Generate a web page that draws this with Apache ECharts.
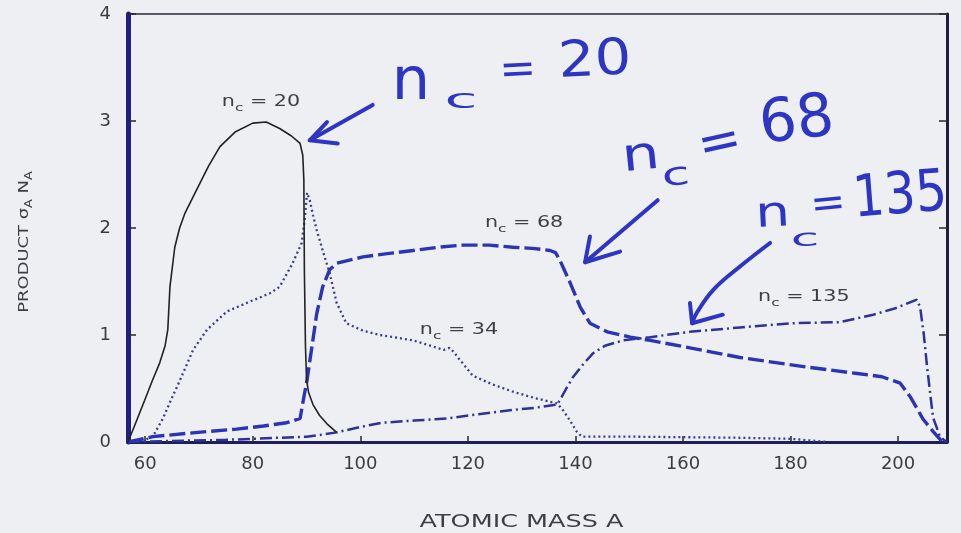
<!DOCTYPE html>
<html>
<head>
<meta charset="utf-8">
<script src="https://cdn.jsdelivr.net/npm/echarts@6/dist/echarts.min.js"></script>
<style>
  html, body { margin: 0; padding: 0; background: #eeeff3; }
  #chart { width: 961px; height: 533px; }
</style>
</head>
<body>
<div id="chart"></div>
<script>
// Mass axis ticks and product axis range
const massTicks = [60, 80, 100, 120, 140, 160, 180, 200];
const massMin = 56.8, massMax = 209.1;
const prodMin = 0, prodMax = 4, prodStep = 1;

// n_c = 20 (solid)
const nc20Mass = [56.8, 58.0, 59.9, 61.3, 62.7, 63.7, 64.2, 64.6, 65.5, 66.4, 67.4, 69.6, 71.8, 73.9, 76.8, 80.0, 82.5, 85.0, 87.2, 88.8, 89.3, 89.5, 89.6, 89.8, 90.0, 90.4, 91.2, 92.4, 93.8, 95.6];
const nc20Prod = [0, 0.15, 0.39, 0.57, 0.74, 0.90, 1.05, 1.45, 1.82, 2.00, 2.14, 2.36, 2.58, 2.76, 2.90, 2.98, 2.99, 2.93, 2.86, 2.79, 2.68, 2.45, 1.60, 0.90, 0.58, 0.46, 0.35, 0.25, 0.17, 0.09];

// n_c = 34 (dotted)
const nc34Mass = [57.5, 59.5, 61.4, 63.3, 64.5, 66.4, 68.9, 71.5, 75.2, 78.9, 83.2, 85.0, 87.4, 89.1, 89.7, 90.1, 90.6, 91.2, 91.9, 93.0, 94.3, 95.6, 97.4, 100.5, 103.7, 109.8, 113.0, 115.5, 116.6, 117.4, 118.3, 119.3, 120.9, 124.5, 128.4, 132.5, 136.6, 137.8, 139.0, 140.2, 141.2, 150, 160, 170, 180, 187];
const nc34Prod = [0, 0.01, 0.05, 0.22, 0.36, 0.57, 0.86, 1.05, 1.22, 1.30, 1.39, 1.45, 1.67, 1.86, 2.10, 2.33, 2.26, 2.12, 1.98, 1.79, 1.58, 1.30, 1.11, 1.04, 1.00, 0.95, 0.90, 0.86, 0.88, 0.84, 0.78, 0.72, 0.62, 0.54, 0.47, 0.41, 0.36, 0.29, 0.20, 0.10, 0.05, 0.05, 0.045, 0.04, 0.03, 0];

// n_c = 68 (dashed)
const nc68Mass = [56.8, 61.4, 67.7, 72.0, 77.0, 82.0, 86.3, 88.8, 89.4, 90.1, 91.0, 91.9, 93.0, 94.3, 95.6, 98.0, 100.5, 105.0, 109.8, 114.5, 119.1, 124.0, 128.4, 132.0, 135.3, 136.3, 137.1, 138.0, 139.0, 140.0, 140.9, 142.7, 145.9, 150.2, 153.9, 161.3, 170.6, 183.1, 192.4, 197.0, 200.4, 202.3, 204.7, 206.5, 207.9, 209.0];
const nc68Prod = [0, 0.05, 0.08, 0.10, 0.12, 0.15, 0.18, 0.22, 0.39, 0.58, 0.89, 1.20, 1.45, 1.61, 1.67, 1.70, 1.73, 1.76, 1.79, 1.82, 1.84, 1.84, 1.82, 1.81, 1.79, 1.77, 1.70, 1.60, 1.49, 1.37, 1.26, 1.11, 1.03, 0.98, 0.95, 0.88, 0.79, 0.70, 0.64, 0.61, 0.55, 0.42, 0.21, 0.10, 0.02, 0];

// n_c = 135 (dash-dot)
const nc135Mass = [56.8, 65, 75, 85, 90, 93, 95.6, 100, 104.0, 110, 116.1, 122, 128.4, 132.5, 136.6, 137.1, 138.3, 139.6, 141.5, 143.3, 145.5, 148.9, 153.9, 161.3, 170.6, 180.0, 189.2, 195.4, 199.5, 203.5, 204.1, 204.8, 205.4, 206.5, 207.8, 209.0];
const nc135Prod = [0, 0.01, 0.02, 0.04, 0.05, 0.07, 0.09, 0.14, 0.18, 0.20, 0.22, 0.26, 0.30, 0.32, 0.35, 0.39, 0.50, 0.61, 0.73, 0.83, 0.90, 0.95, 0.98, 1.03, 1.07, 1.11, 1.12, 1.19, 1.25, 1.33, 1.26, 1.00, 0.70, 0.23, 0.05, 0];

// Printed curve labels: [mass, product] of the left edge of "n", and the value text
const curveLabelText = ['20', '68', '34', '135'];
const curveLabelAt = [[74.25, 3.18], [123.18, 2.05], [111.07, 1.05], [173.97, 1.35]];

// Hand-inked notes: glyph, [mass, product] centre, size, scale x/y, rotation
const inkGlyphs = ['n', 'c', '=', '20', 'n', 'c', '=', '68', 'n', 'c', '=', '135'];
const inkAt = [[109.4, 3.35], [118.7, 3.19], [129.3, 3.46], [143.6, 3.55],
               [152.2, 2.66], [158.7, 2.48], [166.9, 2.78], [181.2, 2.98],
               [176.7, 2.12], [182.7, 1.89], [187.0, 2.21], [200.4, 2.28]];
const inkSize = [54, 30, 44, 50, 46, 32, 52, 60, 42, 26, 42, 58];
const inkScale = [[1.12, 1.1], [2.0, 0.9], [1.0, 1.0], [1.15, 1.0],
                  [1.3, 1.0], [1.6, 1.0], [1.0, 1.0], [0.98, 1.0],
                  [1.3, 1.0], [2.0, 0.9], [1.0, 1.0], [0.85, 1.0]];
const inkRot = [0, 0, 0.05, 0.05, 0.1, 0.1, 0.22, 0.12, 0.05, 0.05, 0.1, 0.08];

// Hand-inked arrows: shaft and head as [mass, product] paths
const arrowShafts = [
  [[102.3, 3.15], [90.6, 2.82]],
  [[155.3, 2.26], [141.8, 1.68]],
  [[176.2, 1.86], [170.6, 1.64], [165.6, 1.42], [162.6, 1.21], [161.7, 1.11]]
];
const arrowHeads = [
  [[93.8, 2.99], [90.6, 2.82], [95.8, 2.79]],
  [[142.7, 1.92], [141.8, 1.68], [148.3, 1.78]],
  [[161.3, 1.30], [161.7, 1.11], [167.4, 1.19]]
];

const zip = (xs, ys) => xs.map((x, i) => [x, ys[i]]);

const FONT = 'DejaVu Sans';
const INK = '#2c35c4';
const PRINT = '#3e3e44';

const chart = echarts.init(document.getElementById('chart'), null, { renderer: 'canvas' });

const baseAxisX = { type: 'value', min: massMin, max: massMax, splitLine: { show: false } };
const baseAxisY = { type: 'value', min: prodMin, max: prodMax, interval: prodStep, splitLine: { show: false } };

chart.setOption({
  animation: false,
  backgroundColor: '#eeeff3',
  grid: { left: 128, right: 14, top: 14, bottom: 91, containLabel: false },
  xAxis: [
    Object.assign({}, baseAxisX, {
      position: 'bottom',
      axisLine: { show: true, onZero: false, lineStyle: { color: '#1e1e5e', width: 3 } },
      axisTick: { show: true, inside: true, length: 6, customValues: massTicks, lineStyle: { color: '#2a2a2a', width: 1.5 } },
      axisLabel: { show: true, customValues: massTicks, margin: 13, fontFamily: FONT, fontSize: 18, color: '#3c3c3c' }
    }),
    Object.assign({}, baseAxisX, {
      position: 'top',
      axisLine: { show: true, onZero: false, lineStyle: { color: '#2a2a3a', width: 1.5 } },
      axisTick: { show: false },
      axisLabel: { show: false }
    })
  ],
  yAxis: [
    Object.assign({}, baseAxisY, {
      position: 'left',
      axisLine: { show: true, onZero: false, lineStyle: { color: '#1f1f82', width: 5 } },
      axisTick: { show: true, inside: true, length: 8, lineStyle: { color: '#2a2a2a', width: 1.5 } },
      axisLabel: { show: true, margin: 17, fontFamily: FONT, fontSize: 18, color: '#3c3c3c' }
    }),
    Object.assign({}, baseAxisY, {
      position: 'right',
      axisLine: { show: true, onZero: false, lineStyle: { color: '#1e1e3a', width: 3 } },
      axisTick: { show: true, inside: true, length: 8, lineStyle: { color: '#2a2a2a', width: 1.5 } },
      axisLabel: { show: false }
    })
  ],
  series: [
    { name: 'n_c = 135', type: 'line', data: zip(nc135Mass, nc135Prod), showSymbol: false, symbol: 'none', z: 3,
      lineStyle: { color: '#2d3198', width: 2.5, type: [12, 4, 2, 4] } },
    { name: 'n_c = 68', type: 'line', data: zip(nc68Mass, nc68Prod), showSymbol: false, symbol: 'none', z: 4,
      lineStyle: { color: '#2a34b6', width: 3.4, type: [16, 5] } },
    { name: 'n_c = 34', type: 'line', data: zip(nc34Mass, nc34Prod), showSymbol: false, symbol: 'none', z: 2,
      lineStyle: { color: '#383d96', width: 2.3, type: [2, 3] } },
    { name: 'n_c = 20', type: 'line', data: zip(nc20Mass, nc20Prod), showSymbol: false, symbol: 'none', z: 5,
      lineStyle: { color: '#222222', width: 1.6, type: 'solid' } }
  ]
});

// Text measuring for laying out subscripted runs
const measureCtx = document.createElement('canvas').getContext('2d');
function textWidth(t, size) {
  measureCtx.font = size + 'px "' + FONT + '"';
  return measureCtx.measureText(t).width;
}
function runChildren(parts, fill, startX) {
  let x = startX;
  const kids = [];
  parts.forEach(p => {
    kids.push({ type: 'text', x: x, y: p.dy || 0, silent: true,
      style: { text: p.t, fontFamily: FONT, fontSize: p.size, fill: fill, align: 'left', verticalAlign: 'middle' } });
    x += textWidth(p.t, p.size);
  });
  return { kids, width: x - startX };
}
function runWidth(parts) { return parts.reduce((s, p) => s + textWidth(p.t, p.size), 0); }

const toPx = pt => chart.convertToPixel({ xAxisIndex: 0, yAxisIndex: 0 }, pt);
const graphics = [];

// Printed curve labels "n_c = N"
curveLabelText.forEach((val, i) => {
  const p = toPx(curveLabelAt[i]);
  const run = runChildren([{ t: 'n', size: 15 }, { t: 'c', size: 11, dy: 6 }, { t: ' = ' + val, size: 15 }], PRINT, 0);
  graphics.push({ type: 'group', x: p[0], y: p[1], scaleX: 1.38, scaleY: 1, children: run.kids, z: 50 });
});

// Axis titles
const plotLeft = toPx([massMin, 0])[0], plotRight = toPx([massMax, 0])[0];
const plotTop = toPx([massMin, prodMax])[1], plotBottom = toPx([massMin, prodMin])[1];

const xTitleParts = [{ t: 'ATOMIC MASS A', size: 17 }];
const xw = runWidth(xTitleParts);
graphics.push({ type: 'group', x: (plotLeft + plotRight) / 2 - 16, y: plotBottom + 81, scaleX: 1.5,
  children: runChildren(xTitleParts, PRINT, -xw / 2).kids, z: 50 });

const yTitleParts = [{ t: 'PRODUCT \u03c3', size: 14 }, { t: 'A', size: 10, dy: 5 }, { t: ' N', size: 14 }, { t: 'A', size: 10, dy: 5 }];
const yw = runWidth(yTitleParts);
graphics.push({ type: 'group', x: 24, y: (plotTop + plotBottom) / 2 + 14, rotation: Math.PI / 2, scaleX: 1.28,
  children: runChildren(yTitleParts, PRINT, -yw / 2).kids, z: 50 });

// Hand-inked notes
inkGlyphs.forEach((g, i) => {
  const p = toPx(inkAt[i]);
  graphics.push({ type: 'text', x: p[0], y: p[1], rotation: inkRot[i], scaleX: inkScale[i][0], scaleY: inkScale[i][1], z: 60, silent: true,
    style: { text: g, fontFamily: FONT, fontSize: inkSize[i], fill: INK, align: 'center', verticalAlign: 'middle' } });
});

// Hand-inked arrows
const inkStroke = { stroke: INK, lineWidth: 4, fill: null, lineCap: 'round', lineJoin: 'round' };
arrowShafts.forEach((path, i) => {
  graphics.push({ type: 'polyline', z: 60, silent: true, shape: { points: path.map(toPx), smooth: path.length > 2 ? 0.4 : 0 }, style: inkStroke });
  graphics.push({ type: 'polyline', z: 60, silent: true, shape: { points: arrowHeads[i].map(toPx) }, style: inkStroke });
});

chart.setOption({ graphic: graphics });
</script>
</body>
</html>
